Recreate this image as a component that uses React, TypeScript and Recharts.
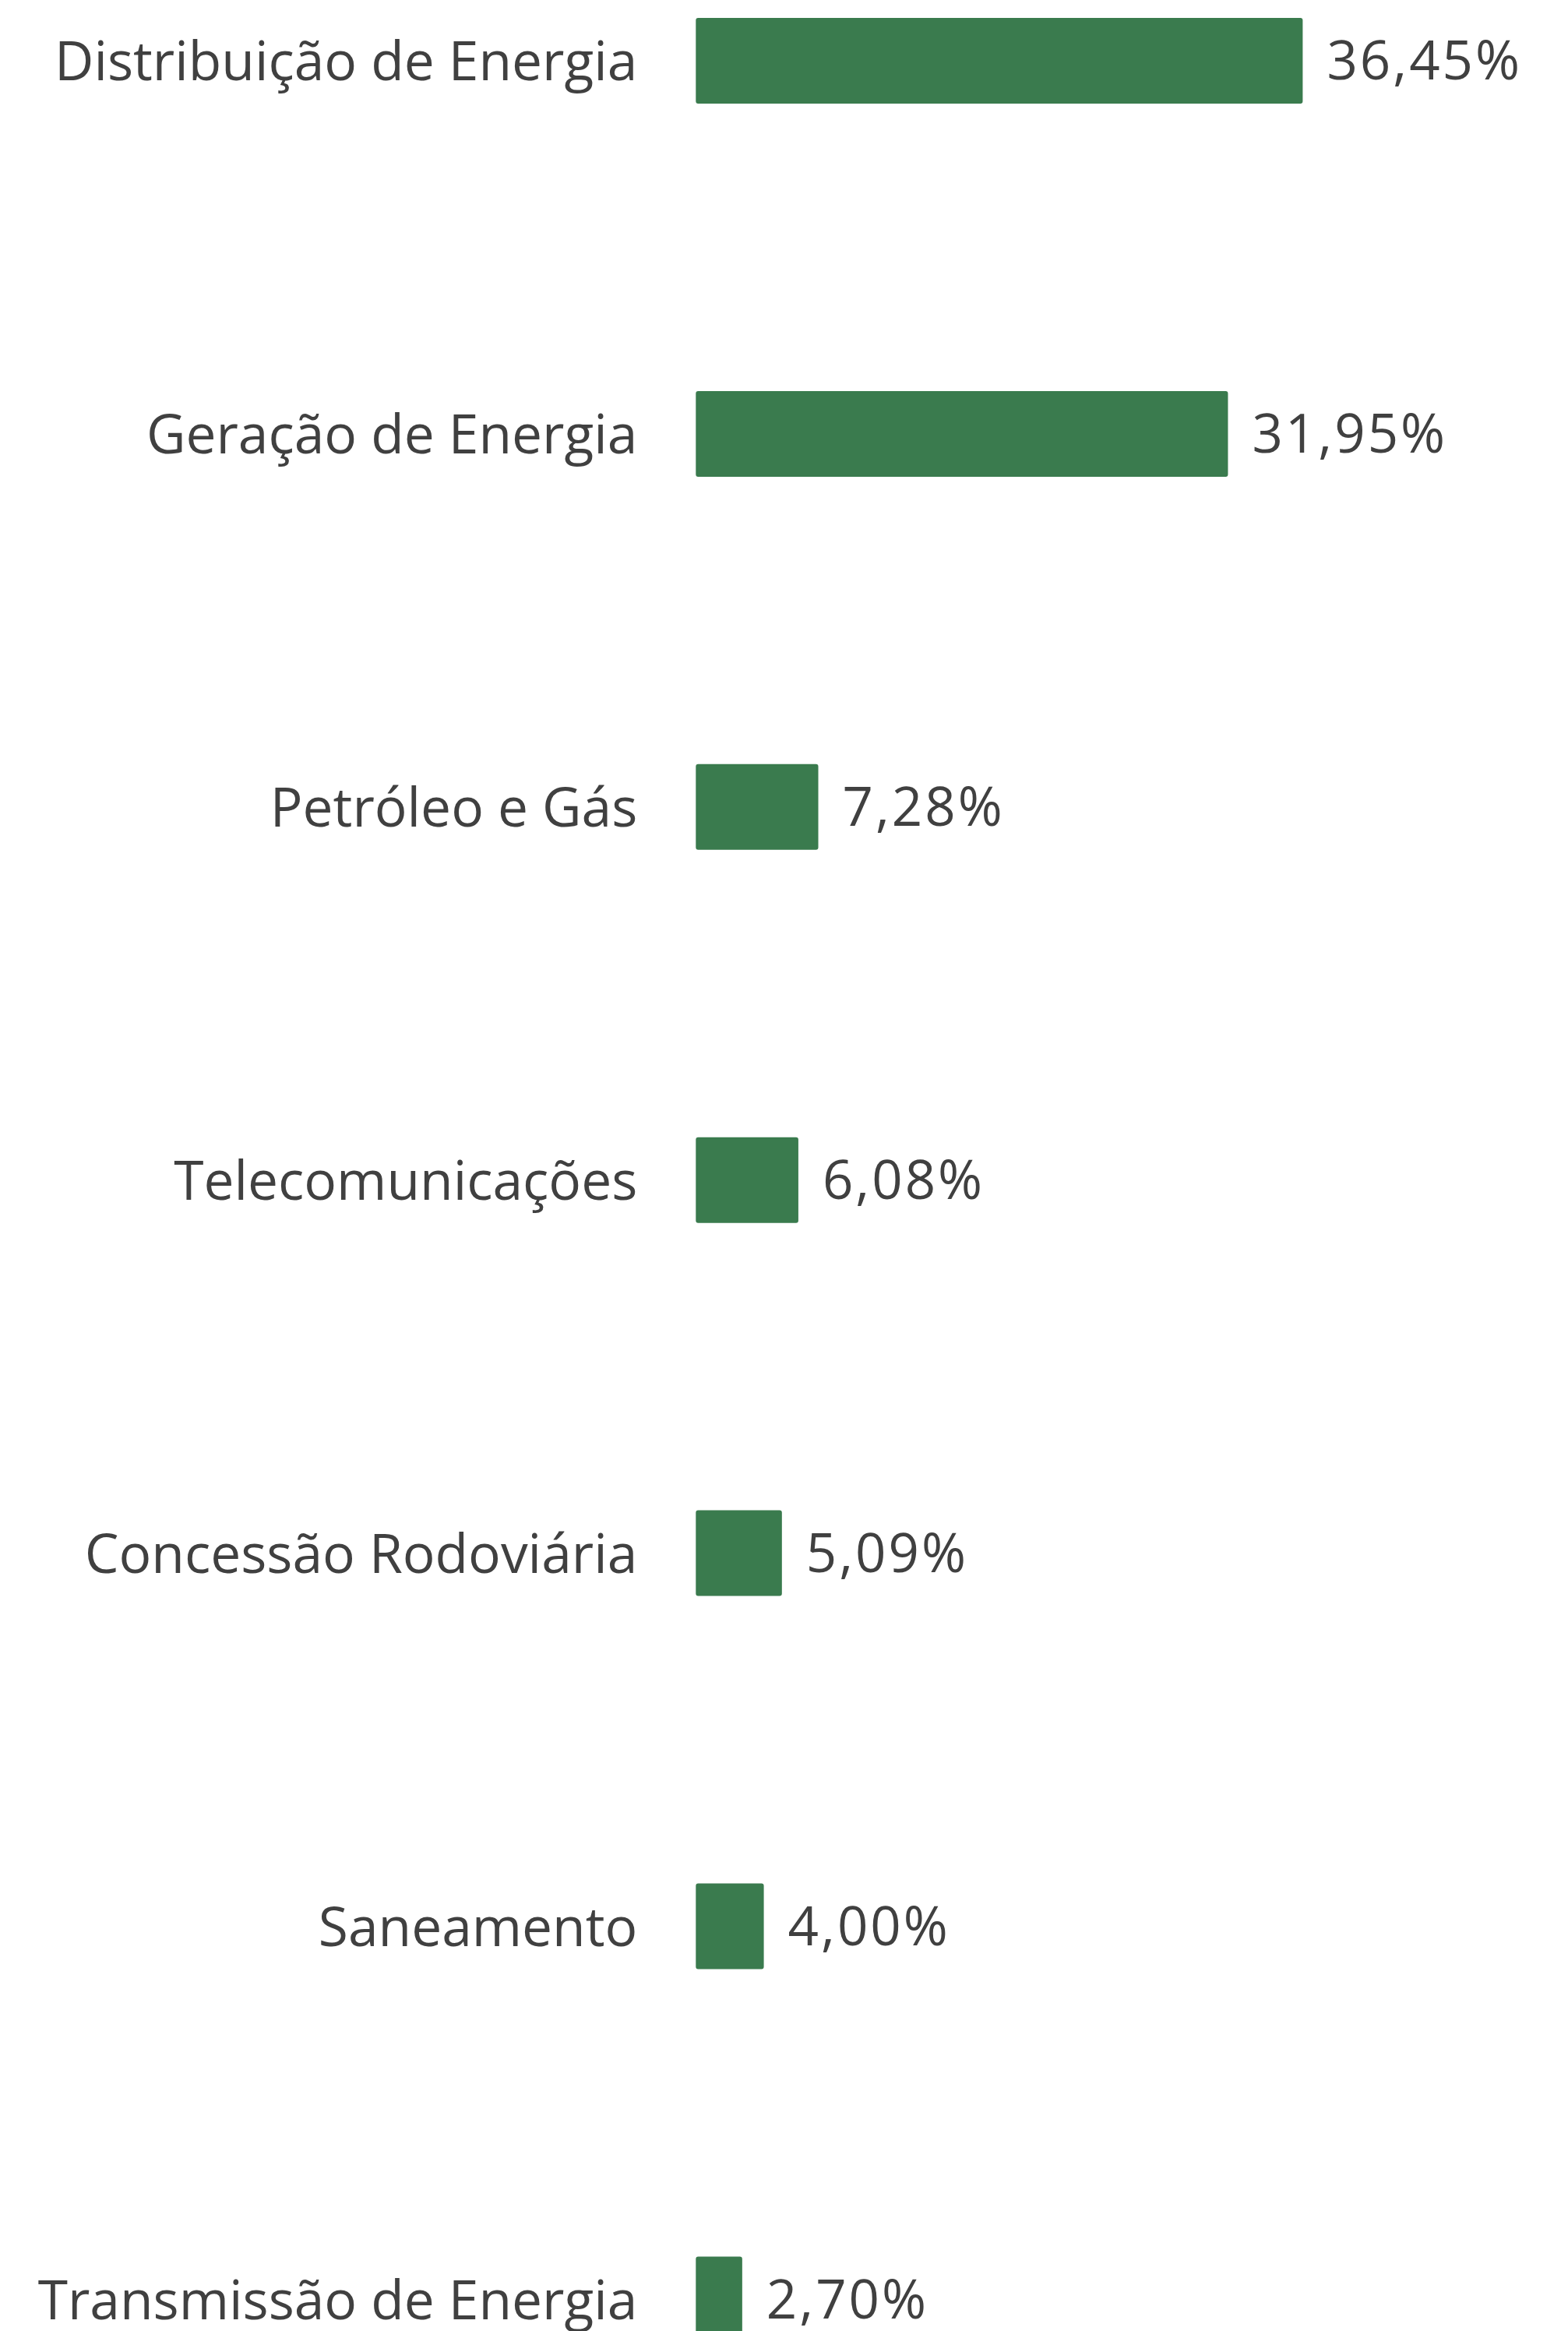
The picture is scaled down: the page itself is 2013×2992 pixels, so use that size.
import React from 'react';
import { BarChart, Bar, XAxis, YAxis, LabelList } from 'recharts';

const categories = [
  'Distribuição de Energia',
  'Geração de Energia',
  'Petróleo e Gás',
  'Telecomunicações',
  'Concessão Rodoviária',
  'Saneamento',
  'Transmissão de Energia',
];
const values = [36.45, 31.95, 7.28, 6.08, 5.09, 4.0, 2.7];

const data = categories.map((name, i) => ({ name, value: values[i] }));

const FONT = '"Open Sans", "Noto Sans", sans-serif';
const TEXT = '#404040';
const GREEN = '#3A7B4E';

const fmt = (v: number) => v.toFixed(2).replace('.', ',') + '%';

export default function App() {
  return (
    <div style={{ position: 'absolute', left: 0, top: 0, width: 2013, height: 2992, overflow: 'hidden', background: '#fff' }}>
      <div style={{ position: 'absolute', left: 0, top: -161.2 }}>
        <BarChart
          width={2013}
          height={3352.3}
          data={data}
          layout="vertical"
          margin={{ top: 0, right: 265.9, bottom: 0, left: 0 }}
          barSize={108}
        >
          <XAxis type="number" domain={[0, 40]} hide />
          <YAxis
            type="category"
            dataKey="name"
            width={894.3}
            axisLine={false}
            tickLine={false}
            tickSize={0}
            tickMargin={76}
            interval={0}
            tick={{ fill: TEXT, fontSize: 69.5, fontFamily: FONT }}
          />
          <Bar dataKey="value" fill={GREEN} stroke={GREEN} strokeWidth={2} radius={2} isAnimationActive={false}>
            <LabelList
              dataKey="value"
              position="right"
              offset={32}
              formatter={(v: any) => fmt(Number(v))}
              style={{ fill: TEXT, fontSize: 69, fontFamily: FONT, letterSpacing: 3 }}
            />
          </Bar>
        </BarChart>
      </div>
    </div>
  );
}
